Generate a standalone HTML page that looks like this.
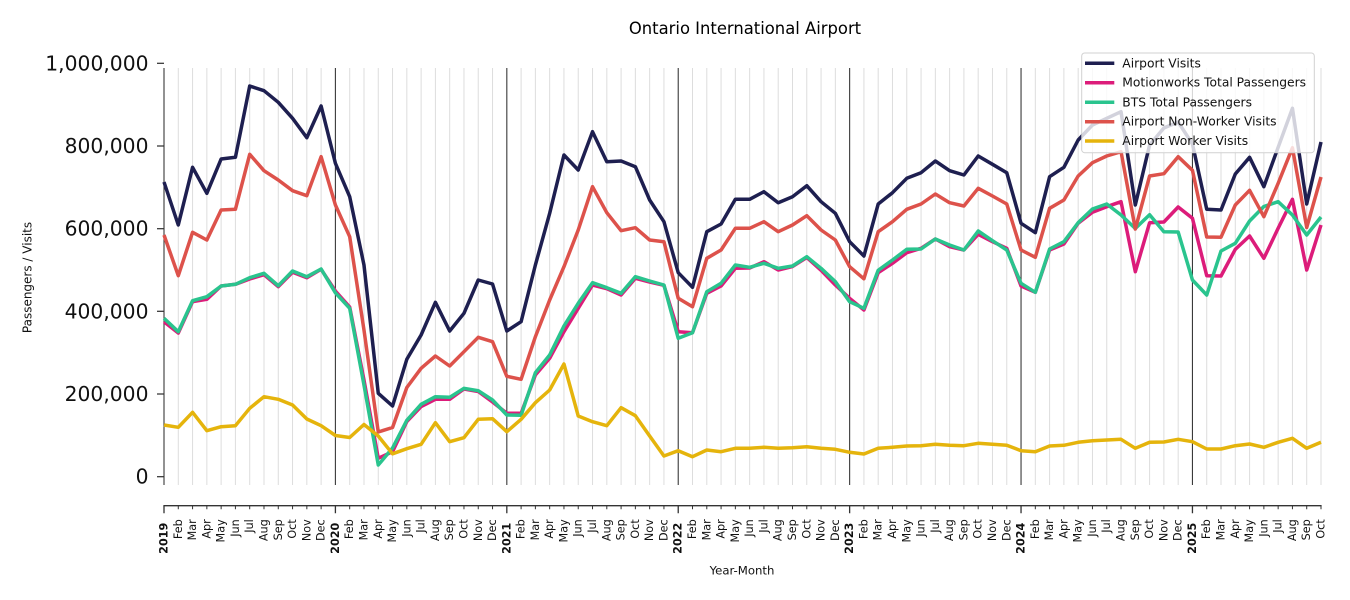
<!DOCTYPE html>
<html>
<head>
<meta charset="utf-8">
<style>
  html, body { margin: 0; padding: 0; background: #ffffff; }
  body { width: 1350px; height: 600px; overflow: hidden; }
  svg { display: block; font-family: "DejaVu Sans", "Liberation Sans", sans-serif; }
  .ser { fill: none; stroke-width: 3.5; stroke-linejoin: round; stroke-linecap: butt; }
</style>
</head>
<body>
<svg width="1350" height="600" viewBox="0 0 1350 600" xmlns="http://www.w3.org/2000/svg">
  <rect x="0" y="0" width="1350" height="600" fill="#ffffff"/>

  <!-- Title -->
  <text x="745" y="34" font-size="16.4" text-anchor="middle" fill="#000">Ontario International Airport</text>

  <!-- Grid (scaled x: month index) -->
  <g transform="translate(164 0) scale(14.284 1)">
    <path vector-effect="non-scaling-stroke" stroke="#dddddd" stroke-width="1" fill="none"
      d="M1 68V485M2 68V485M3 68V485M4 68V485M5 68V485M6 68V485M7 68V485M8 68V485M9 68V485M10 68V485M11 68V485
         M13 68V485M14 68V485M15 68V485M16 68V485M17 68V485M18 68V485M19 68V485M20 68V485M21 68V485M22 68V485M23 68V485
         M25 68V485M26 68V485M27 68V485M28 68V485M29 68V485M30 68V485M31 68V485M32 68V485M33 68V485M34 68V485M35 68V485
         M37 68V485M38 68V485M39 68V485M40 68V485M41 68V485M42 68V485M43 68V485M44 68V485M45 68V485M46 68V485M47 68V485
         M49 68V485M50 68V485M51 68V485M52 68V485M53 68V485M54 68V485M55 68V485M56 68V485M57 68V485M58 68V485M59 68V485
         M61 68V485M62 68V485M63 68V485M64 68V485M65 68V485M66 68V485M67 68V485M68 68V485M69 68V485M70 68V485M71 68V485
         M73 68V485M74 68V485M75 68V485M76 68V485M77 68V485M78 68V485M79 68V485M80 68V485M81 68V485"/>
    <path vector-effect="non-scaling-stroke" stroke="#3a3a3a" stroke-width="1.1" fill="none"
      d="M0 68V485M12 68V485M24 68V485M36 68V485M48 68V485M60 68V485M72 68V485"/>
  </g>

  <!-- Series -->
  <g transform="translate(164 0) scale(14.284 1)">
    <polyline class="ser" vector-effect="non-scaling-stroke" stroke="#1e1f50"
      points="0,182 1,225 2,167.3 3,193.3 4,159 5,157.3 6,86 7,90.7 8,102.3 9,118.3 10,137.7 11,106 12,163.3 13,196.7 14,265 15,393.3 16,406 17,359.3 18,335 19,302.3 20,331 21,313.3 22,280 23,284 24,331 25,321.7 26,265 27,213.3 28,155 29,170 30,131.7 31,161.7 32,161 33,166.7 34,200 35,221.7 36,272.7 37,287.3 38,231.7 39,224 40,199.3 41,199.3 42,191.7 43,202.7 44,196.7 45,185.7 46,201.7 47,213.3 48,241.7 49,256 50,204 51,192.7 52,178.3 53,172.7 54,161 55,170.7 56,175 57,156 58,164.3 59,172.7 60,223.3 61,232.7 62,176.7 63,167.3 64,140 65,125 66,118.3 67,111.7 68,205 69,145 70,128 71,122 72,144 73,209.3 74,210 75,174 76,157.3 77,186.7 78,147.3 79,108.3 80,204 81,142"/>
    <polyline class="ser" vector-effect="non-scaling-stroke" stroke="#dc1c7a"
      points="0,321.7 1,333 2,301.7 3,299.3 4,286 5,284.3 6,279 7,274.7 8,286.7 9,272.3 10,277.7 11,269.3 12,291 13,307 14,380 15,458.3 16,451.7 17,421.5 18,406.5 19,399.3 20,399.3 21,389 22,391.5 23,402 24,413.3 25,413.3 26,375 27,358.3 28,331.7 29,308.3 30,285 31,288.7 32,295 33,278.3 34,282 35,285.3 36,331.7 37,332.7 38,293.3 39,286 40,268.3 41,268 42,261.7 43,270 44,266.5 45,257.5 46,270.3 47,285 48,298.3 49,310 50,272.7 51,263.3 52,252.7 53,248.3 54,239 55,246.7 56,250 57,234.3 58,241.7 59,248.3 60,286 61,292.3 62,250 63,244 64,223.3 65,212.3 66,206.7 67,201.7 68,271.7 69,222.7 70,222 71,207 72,218.3 73,275.7 74,276 75,249.3 76,236 77,258.3 78,228.3 79,199.3 80,270 81,225"/>
    <polyline class="ser" vector-effect="non-scaling-stroke" stroke="#2ac48e"
      points="0,318.3 1,331.7 2,300.7 3,296.7 4,286 5,284.3 6,277.7 7,273.3 8,285.7 9,271 10,276.7 11,269 12,292.8 13,308.3 14,385 15,465 16,448 17,420.3 18,404.3 19,396.7 20,397.3 21,388.3 22,390.7 23,400 24,415 25,415.3 26,372.7 27,355 28,326 29,303.3 30,282.7 31,287.7 32,293.3 33,276.7 34,281 35,285 36,338.3 37,332.7 38,291.7 39,283.3 40,265 41,267.3 42,263.3 43,268.3 44,266 45,256.7 46,268.3 47,281.7 48,301.7 49,308.3 50,270.3 51,260 52,249.3 53,249 54,239 55,245 56,250 57,231 58,240.7 59,250 60,283.3 61,292.3 62,249 63,241.7 64,222.7 65,209 66,204 67,215 68,228.5 69,214.7 70,231.7 71,232 72,280 73,295 74,251 75,243.3 76,221 77,206.5 78,201.7 79,215 80,235 81,217"/>
    <polyline class="ser" vector-effect="non-scaling-stroke" stroke="#dd524b"
      points="0,235 1,275.7 2,232.3 3,240 4,210 5,209.3 6,154.3 7,170.7 8,180 9,190.7 10,195.7 11,156.7 12,205 13,236.7 14,330 15,432 16,427.5 17,387.5 18,368.3 19,356 20,366 21,351.7 22,337.3 23,341.7 24,376.3 25,379.3 26,336.7 27,300 28,266.7 29,230 30,186.7 31,212.7 32,230.7 33,227.7 34,240 35,241.7 36,298.3 37,306.7 38,258.3 39,250 40,228.3 41,228.3 42,221.7 43,231.7 44,225 45,215.7 46,230 47,240 48,266.7 49,278.8 50,231.7 51,221.7 52,209.3 53,204 54,194 55,202.7 56,206 57,188.3 58,196 59,204 60,250 61,257.3 62,208.3 63,200 64,176 65,162.7 66,156 67,151.7 68,229 69,176 70,173.7 71,156.7 72,170.3 73,237 74,237.2 75,205 76,190.3 77,216.7 78,183.3 79,147.8 80,227.5 81,177"/>
    <polyline class="ser" vector-effect="non-scaling-stroke" stroke="#e5b40c"
      points="0,425 1,427.3 2,412.3 3,430.7 4,426.7 5,425.7 6,408.3 7,396.7 8,399.3 9,405 10,419 11,425.7 12,435.5 13,437.5 14,424.5 15,436 16,453.8 17,448.7 18,444.3 19,422.7 20,441.7 21,437.7 22,419.3 23,418.7 24,431.7 25,419.3 26,402.7 27,390 28,364 29,416 30,421.7 31,425.7 32,407.7 33,415.7 34,436 35,456 36,450.7 37,456.7 38,450 39,451.7 40,448.3 41,448.3 42,447.3 43,448.3 44,447.7 45,446.7 46,448.3 47,449.3 48,452.3 49,454 50,448.3 51,447.3 52,446 53,445.7 54,444.3 55,445.3 56,445.7 57,443.3 58,444.3 59,445.3 60,450.7 61,451.7 62,446 63,445.3 64,442.3 65,440.7 66,440 67,439.3 68,448.3 69,442.3 70,442 71,439.3 72,441.7 73,449 74,449 75,445.7 76,444 77,447.3 78,442.3 79,438.3 80,448.3 81,442.3"/>
  </g>

  <!-- Y axis ticks & labels -->
  <g stroke="#333" stroke-width="1.25">
    <line x1="157" y1="63.3" x2="164" y2="63.3"/>
    <line x1="157" y1="146" x2="164" y2="146"/>
    <line x1="157" y1="228.7" x2="164" y2="228.7"/>
    <line x1="157" y1="311.3" x2="164" y2="311.3"/>
    <line x1="157" y1="394" x2="164" y2="394"/>
    <line x1="157" y1="476.7" x2="164" y2="476.7"/>
  </g>
  <g font-size="20.3" text-anchor="end" fill="#111" dominant-baseline="central">
    <text x="148.5" y="63.3">1,000,000</text>
    <text x="148.5" y="146">800,000</text>
    <text x="148.5" y="228.7">600,000</text>
    <text x="148.5" y="311.3">400,000</text>
    <text x="148.5" y="394">200,000</text>
    <text x="148.5" y="476.7">0</text>
  </g>
  <text transform="translate(31.5 277.5) rotate(-90)" font-size="12" text-anchor="middle" fill="#111">Passengers / Visits</text>

  <!-- X axis spine & ticks -->
  <line x1="163.4" y1="505.7" x2="1321.6" y2="505.7" stroke="#333" stroke-width="1.3"/>
  <g transform="translate(164 0) scale(14.284 1)">
    <path vector-effect="non-scaling-stroke" stroke="#333" stroke-width="1" fill="none"
      d="M1 505.7V509.3M2 505.7V509.3M3 505.7V509.3M4 505.7V509.3M5 505.7V509.3M6 505.7V509.3M7 505.7V509.3M8 505.7V509.3M9 505.7V509.3M10 505.7V509.3M11 505.7V509.3
         M13 505.7V509.3M14 505.7V509.3M15 505.7V509.3M16 505.7V509.3M17 505.7V509.3M18 505.7V509.3M19 505.7V509.3M20 505.7V509.3M21 505.7V509.3M22 505.7V509.3M23 505.7V509.3
         M25 505.7V509.3M26 505.7V509.3M27 505.7V509.3M28 505.7V509.3M29 505.7V509.3M30 505.7V509.3M31 505.7V509.3M32 505.7V509.3M33 505.7V509.3M34 505.7V509.3M35 505.7V509.3
         M37 505.7V509.3M38 505.7V509.3M39 505.7V509.3M40 505.7V509.3M41 505.7V509.3M42 505.7V509.3M43 505.7V509.3M44 505.7V509.3M45 505.7V509.3M46 505.7V509.3M47 505.7V509.3
         M49 505.7V509.3M50 505.7V509.3M51 505.7V509.3M52 505.7V509.3M53 505.7V509.3M54 505.7V509.3M55 505.7V509.3M56 505.7V509.3M57 505.7V509.3M58 505.7V509.3M59 505.7V509.3
         M61 505.7V509.3M62 505.7V509.3M63 505.7V509.3M64 505.7V509.3M65 505.7V509.3M66 505.7V509.3M67 505.7V509.3M68 505.7V509.3M69 505.7V509.3M70 505.7V509.3M71 505.7V509.3
         M73 505.7V509.3M74 505.7V509.3M75 505.7V509.3M76 505.7V509.3M77 505.7V509.3M78 505.7V509.3M79 505.7V509.3M80 505.7V509.3M81 505.7V509.3"/>
    <path vector-effect="non-scaling-stroke" stroke="#333" stroke-width="1.3" fill="none"
      d="M0 505.7V513.3M12 505.7V513.3M24 505.7V513.3M36 505.7V513.3M48 505.7V513.3M60 505.7V513.3M72 505.7V513.3"/>
  </g>

  <!-- X tick labels (rotated) -->
  <g transform="rotate(-90)" font-size="11.2" text-anchor="end" dominant-baseline="central" fill="#111">
    <g font-weight="bold">
      <text x="-522.7" y="164.00">2019</text>
      <text x="-522.7" y="335.41">2020</text>
      <text x="-522.7" y="506.82">2021</text>
      <text x="-522.7" y="678.22">2022</text>
      <text x="-522.7" y="849.63">2023</text>
      <text x="-522.7" y="1021.04">2024</text>
      <text x="-522.7" y="1192.45">2025</text>
    </g>
    <text x="-519.3" y="178.28">Feb</text><text x="-519.3" y="192.57">Mar</text><text x="-519.3" y="206.85">Apr</text><text x="-519.3" y="221.14">May</text><text x="-519.3" y="235.42">Jun</text><text x="-519.3" y="249.70">Jul</text><text x="-519.3" y="263.99">Aug</text><text x="-519.3" y="278.27">Sep</text><text x="-519.3" y="292.56">Oct</text><text x="-519.3" y="306.84">Nov</text><text x="-519.3" y="321.12">Dec</text>
    <text x="-519.3" y="349.69">Feb</text><text x="-519.3" y="363.98">Mar</text><text x="-519.3" y="378.26">Apr</text><text x="-519.3" y="392.54">May</text><text x="-519.3" y="406.83">Jun</text><text x="-519.3" y="421.11">Jul</text><text x="-519.3" y="435.40">Aug</text><text x="-519.3" y="449.68">Sep</text><text x="-519.3" y="463.96">Oct</text><text x="-519.3" y="478.25">Nov</text><text x="-519.3" y="492.53">Dec</text>
    <text x="-519.3" y="521.10">Feb</text><text x="-519.3" y="535.38">Mar</text><text x="-519.3" y="549.67">Apr</text><text x="-519.3" y="563.95">May</text><text x="-519.3" y="578.24">Jun</text><text x="-519.3" y="592.52">Jul</text><text x="-519.3" y="606.80">Aug</text><text x="-519.3" y="621.09">Sep</text><text x="-519.3" y="635.37">Oct</text><text x="-519.3" y="649.66">Nov</text><text x="-519.3" y="663.94">Dec</text>
    <text x="-519.3" y="692.51">Feb</text><text x="-519.3" y="706.79">Mar</text><text x="-519.3" y="721.08">Apr</text><text x="-519.3" y="735.36">May</text><text x="-519.3" y="749.64">Jun</text><text x="-519.3" y="763.93">Jul</text><text x="-519.3" y="778.21">Aug</text><text x="-519.3" y="792.50">Sep</text><text x="-519.3" y="806.78">Oct</text><text x="-519.3" y="821.06">Nov</text><text x="-519.3" y="835.35">Dec</text>
    <text x="-519.3" y="863.92">Feb</text><text x="-519.3" y="878.20">Mar</text><text x="-519.3" y="892.48">Apr</text><text x="-519.3" y="906.77">May</text><text x="-519.3" y="921.05">Jun</text><text x="-519.3" y="935.34">Jul</text><text x="-519.3" y="949.62">Aug</text><text x="-519.3" y="963.90">Sep</text><text x="-519.3" y="978.19">Oct</text><text x="-519.3" y="992.47">Nov</text><text x="-519.3" y="1006.76">Dec</text>
    <text x="-519.3" y="1035.32">Feb</text><text x="-519.3" y="1049.61">Mar</text><text x="-519.3" y="1063.89">Apr</text><text x="-519.3" y="1078.18">May</text><text x="-519.3" y="1092.46">Jun</text><text x="-519.3" y="1106.74">Jul</text><text x="-519.3" y="1121.03">Aug</text><text x="-519.3" y="1135.31">Sep</text><text x="-519.3" y="1149.60">Oct</text><text x="-519.3" y="1163.88">Nov</text><text x="-519.3" y="1178.16">Dec</text>
    <text x="-519.3" y="1206.73">Feb</text><text x="-519.3" y="1221.02">Mar</text><text x="-519.3" y="1235.30">Apr</text><text x="-519.3" y="1249.58">May</text><text x="-519.3" y="1263.87">Jun</text><text x="-519.3" y="1278.15">Jul</text><text x="-519.3" y="1292.44">Aug</text><text x="-519.3" y="1306.72">Sep</text><text x="-519.3" y="1321.00">Oct</text>
  </g>

  <text x="742" y="574.3" font-size="11.7" text-anchor="middle" fill="#111">Year-Month</text>

  <!-- Legend -->
  <rect x="1081.7" y="53" width="232.6" height="99.7" rx="3" ry="3" fill="#ffffff" fill-opacity="0.8" stroke="#cccccc" stroke-opacity="0.9" stroke-width="1"/>
  <g stroke-width="3.5" fill="none">
    <line x1="1085" y1="63.3" x2="1114.3" y2="63.3" stroke="#1e1f50"/>
    <line x1="1085" y1="82.7" x2="1114.3" y2="82.7" stroke="#dc1c7a"/>
    <line x1="1085" y1="102.3" x2="1114.3" y2="102.3" stroke="#2ac48e"/>
    <line x1="1085" y1="121.7" x2="1114.3" y2="121.7" stroke="#dd524b"/>
    <line x1="1085" y1="141" x2="1114.3" y2="141" stroke="#e5b40c"/>
  </g>
  <g font-size="12.3" fill="#111" dominant-baseline="central">
    <text x="1122.3" y="63.3">Airport Visits</text>
    <text x="1122.3" y="82.7">Motionworks Total Passengers</text>
    <text x="1122.3" y="102.3">BTS Total Passengers</text>
    <text x="1122.3" y="121.7">Airport Non-Worker Visits</text>
    <text x="1122.3" y="141">Airport Worker Visits</text>
  </g>
</svg>
</body>
</html>
